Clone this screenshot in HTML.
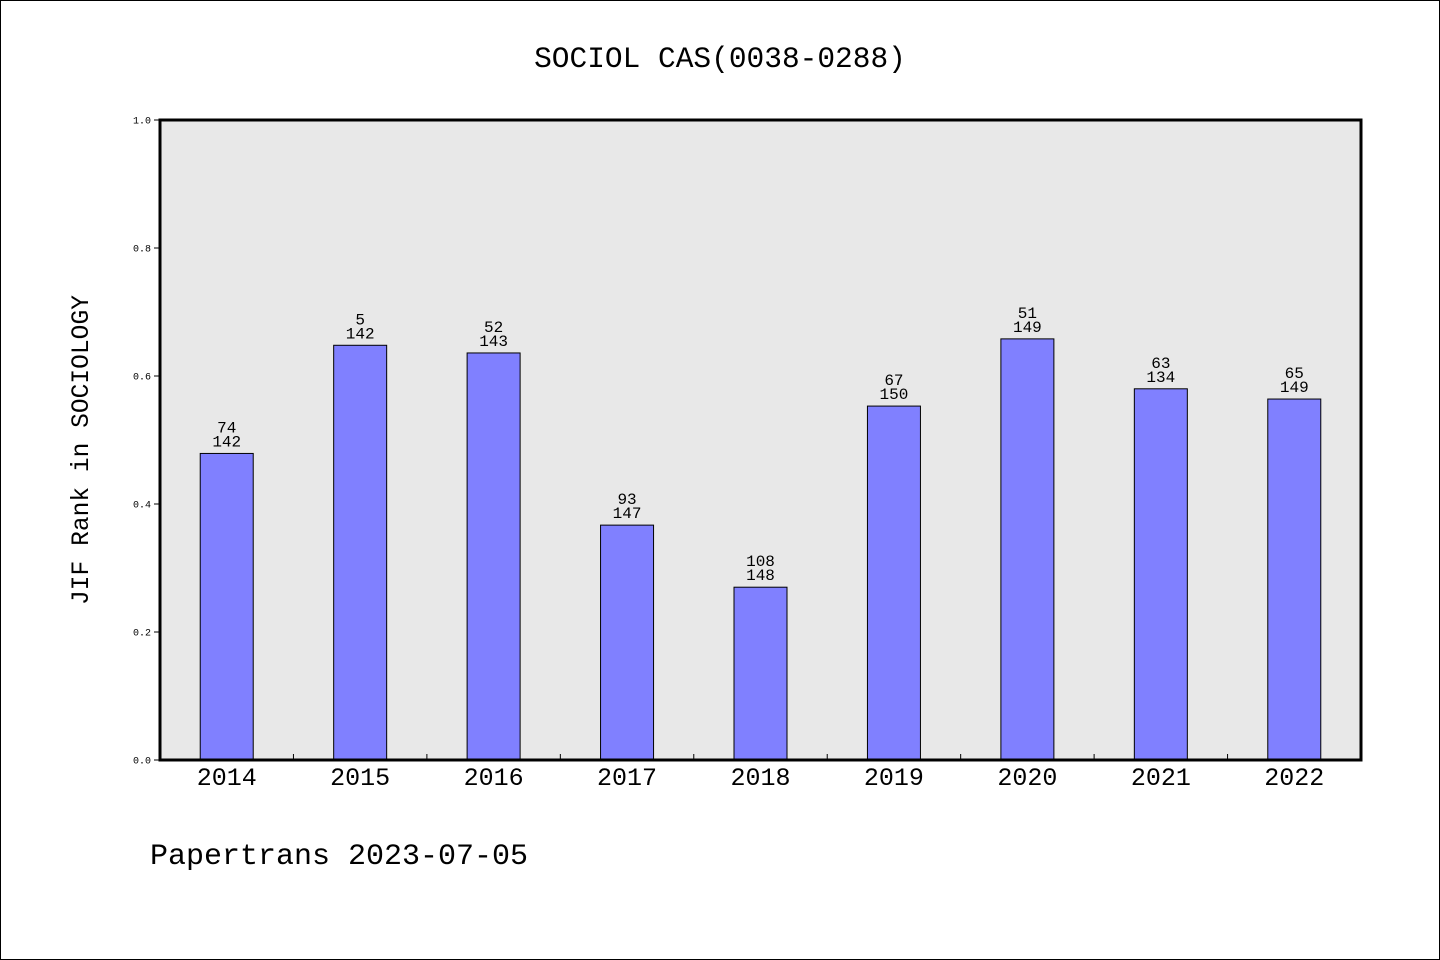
<!DOCTYPE html>
<html><head><meta charset="utf-8"><style>
body{margin:0;background:#fff}
svg{display:block;font-family:"WenQuanYi Zen Hei Mono","Liberation Mono",monospace}
</style></head><body>
<svg id="chart" width="1440" height="960">
<rect x="0.5" y="0.5" width="1439" height="959" fill="#fff" stroke="#000"/>
<text x="720" y="67" text-anchor="middle" font-size="29.5">SOCIOL CAS(0038-0288)</text>
<rect x="160" y="120" width="1201" height="640" fill="#e8e8e8"/>
<g id="marks"></g>
<rect x="160" y="120" width="1201" height="640" fill="none" stroke="#000" stroke-width="3"/>
<text transform="translate(88,450) rotate(-90)" text-anchor="middle" font-size="24.6">JIF Rank in SOCIOLOGY</text>
<text x="150" y="864" font-size="30">Papertrans 2023-07-05</text>
</svg>
<script>
const years=["2014","2015","2016","2017","2018","2019","2020","2021","2022"];
const values=[0.479,0.648,0.636,0.367,0.27,0.553,0.658,0.58,0.564];
const ranks=["74","5","52","93","108","67","51","63","65"];
const totals=["142","142","143","147","148","150","149","134","149"];
const yTicks=[0,0.2,0.4,0.6,0.8,1.0];
const NS="http://www.w3.org/2000/svg";
const g=document.getElementById('marks');
const X0=160,W=1201,Y0=760,H=640;
const step=W/years.length;
const y=v=>Y0-v*H;
const xc=i=>X0+step*(i+0.5);
function mk(t,a){const e=document.createElementNS(NS,t);for(const k in a)e.setAttribute(k,a[k]);g.appendChild(e);return e;}
yTicks.forEach(v=>{
 const l=mk('line',{x1:154,x2:160,y1:y(v),y2:y(v),stroke:'#000'});
 
 
 const t=mk('text',{x:151,y:y(v)+3.5,'text-anchor':'end','font-size':10});
 t.textContent=v.toFixed(1);
 
 
});
years.forEach((yr,i)=>{
 const b=mk('rect',{x:xc(i)-26.5,y:y(values[i]),width:53,height:values[i]*H,fill:'#8080ff',stroke:'#000','stroke-width':1});
 
 
 const t1=mk('text',{x:xc(i),y:y(values[i])-21,'text-anchor':'middle','font-size':16});
 t1.textContent=ranks[i];
 
 
 const t2=mk('text',{x:xc(i),y:y(values[i])-7,'text-anchor':'middle','font-size':16});
 t2.textContent=totals[i];
 
 
 const xl=mk('text',{x:xc(i),y:785,'text-anchor':'middle','font-size':25});
 xl.textContent=yr;
 
 
 if(i>0){const tk=mk('line',{x1:X0+step*i,x2:X0+step*i,y1:754,y2:760,stroke:'#000'});
 
 }
});
</script>
</body></html>
